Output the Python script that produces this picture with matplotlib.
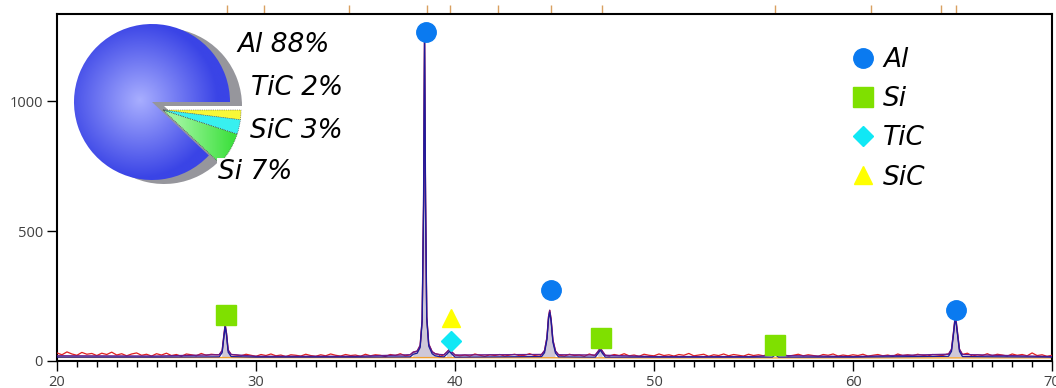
import matplotlib.pyplot as plt
import numpy as np
from matplotlib.patches import Wedge
from matplotlib.lines import Line2D
from matplotlib.ticker import MultipleLocator
from matplotlib.colors import LinearSegmentedColormap

# measured background, counts read every 0.25 deg of 2theta
two_theta = np.arange(20, 70.001, 0.25)
counts = [
    31, 24, 35, 27, 22, 33, 26, 29, 21, 30,
    25, 34, 23, 28, 20, 27, 31, 22, 26, 19,
    28, 23, 30, 21, 25, 18, 27, 24, 20, 29,
    22, 26, 24, 21, 27, 19, 23, 20, 26, 22,
    18, 25, 21, 27, 20, 23, 17, 24, 22, 19,
    26, 21, 18, 24, 20, 27, 22, 19, 25, 21,
    23, 18, 26, 20, 24, 22, 17, 25, 21, 28,
    20, 24, 22, 26, 19, 27, 23, 18, 25, 21,
    26, 20, 23, 19, 27, 22, 18, 24, 21, 25,
    19, 23, 26, 20, 22, 28, 21, 18, 24, 20,
    25, 22, 19, 26, 21, 23, 18, 27, 20, 24,
    22, 19, 25, 21, 28, 20, 23, 18, 26, 22,
    20, 27, 21, 24, 19, 25, 22, 29, 20, 23,
    26, 18, 24, 21, 27, 20, 25, 22, 19, 26,
    21, 24, 20, 27, 18, 23, 25, 19, 22, 26,
    20, 24, 21, 18, 25, 22, 27, 19, 23, 20,
    24, 21, 26, 19, 22, 25, 20, 23, 18, 27,
    21, 24, 20, 26, 22, 19, 25, 23, 21, 27,
    20, 25, 22, 30, 19, 24, 21, 28, 20, 26,
    23, 19, 27, 22, 25, 20, 31, 21, 24, 18,
    22]

# counts read around each reflection
peaks = [
    ([28.15, 28.3, 28.38, 28.45, 28.52, 28.6, 28.75],
     [24, 40, 95, 140, 105, 42, 25]),
    ([37.75, 37.9, 38.1, 38.25, 38.35, 38.42, 38.47, 38.52, 38.58, 38.68, 38.85, 39.0, 39.2],
     [24, 34, 38, 60, 160, 600, 1250, 620, 170, 65, 36, 28, 25]),
    ([39.45, 39.6, 39.72, 39.85, 40.0],
     [24, 35, 45, 34, 23]),
    ([44.35, 44.5, 44.62, 44.7, 44.76, 44.83, 44.92, 45.05, 45.2],
     [25, 40, 90, 170, 195, 160, 80, 38, 24]),
    ([47.05, 47.2, 47.3, 47.42, 47.55],
     [23, 38, 50, 36, 22]),
    ([55.95, 56.1, 56.25],
     [22, 32, 21]),
    ([64.8, 64.95, 65.05, 65.12, 65.18, 65.25, 65.35, 65.5],
     [26, 45, 110, 160, 155, 110, 45, 25]),
]

fit_bg_x = np.array([20, 25, 30, 35, 40, 45, 50, 55, 60, 65, 70])
fit_bg_y = np.array([20, 19, 18, 18, 18, 18, 17, 17, 17, 17, 17])
bkg_x = [20, 30, 40, 50, 60, 70]
bkg_y = [14, 13, 13, 12, 12, 12]

# reference line positions (top axis)
ref_lines = [28.54, 30.40, 34.67, 38.59, 39.75, 42.16, 44.82, 47.39, 56.08, 60.90, 64.42, 65.18]

# phase markers
phases = ['Al', 'Si', 'TiC', 'SiC']
phase_x = [[38.55, 44.82, 65.18], [28.5, 47.33, 56.1], [39.78], [39.78]]
phase_y = [[1265, 273, 196], [177, 88, 62], [77], [165]]
phase_marker = ['o', 's', 'D', '^']
phase_color = ['#0a7af0', '#7fe000', '#10e8f5', '#ffff00']
phase_size = [14, 14, 10, 13]

pie_names = ['Al', 'TiC', 'SiC', 'Si']
pie_pct = [88, 2, 3, 7]
pie_color = ['#3a44e6', '#f8f838', '#38f0f0', '#3ee03e']


def merge(xs, ys):
    xs = np.asarray(xs, float)
    ys = np.asarray(ys, float)
    keep = np.ones(len(xs), bool)
    for px, py in peaks:
        keep &= ~((xs >= px[0]) & (xs <= px[-1]))
    x = np.concatenate([xs[keep]] + [np.array(p[0]) for p in peaks])
    y = np.concatenate([ys[keep]] + [np.array(p[1], float) for p in peaks])
    o = np.argsort(x)
    return x[o], y[o]


fig = plt.figure(figsize=(10.56, 3.88), dpi=100)
ax = fig.add_axes([57/1056, 27/388, 995/1056, 347/388])

raw_x, raw_y = merge(two_theta, counts)
fit_x, fit_y = merge(fit_bg_x, fit_bg_y)

ax.fill_between(fit_x, fit_y, 15, where=fit_y > 24, color='#cfc8d8', lw=0, zorder=1)
ax.plot(bkg_x, bkg_y, color='#f0a030', lw=1, zorder=2)
ax.plot(raw_x, raw_y, color='#e02020', lw=0.9, zorder=3)
ax.plot(fit_x, fit_y, color='#6a1a8a', lw=1.0, zorder=4)
ax.plot(fit_x, np.maximum(fit_y - 8, 15), color='#1c1c9c', lw=0.9, zorder=4)

for i in range(len(phases)):
    ax.plot(phase_x[i], phase_y[i], linestyle='none', marker=phase_marker[i],
            color=phase_color[i], markersize=phase_size[i], zorder=6, clip_on=False)

# orange reference ticks above the top spine
ax.vlines(ref_lines, 1.0, 1.027, transform=ax.get_xaxis_transform(),
          color='#d9a060', lw=1, clip_on=False)

ax.set_xlim(20, 70)
ax.set_ylim(0, 1335)
ax.set_xticks([20, 30, 40, 50, 60, 70])
ax.set_yticks([0, 500, 1000])
ax.xaxis.set_minor_locator(MultipleLocator(1))
ax.tick_params(axis='both', which='major', direction='out', length=7, width=1,
               labelsize=10.5, labelcolor='#404040', pad=3)
ax.tick_params(axis='x', which='minor', direction='out', length=4, width=1)
for s in ax.spines.values():
    s.set_linewidth(1.5)
for lab in ax.get_xticklabels() + ax.get_yticklabels():
    lab.set_family('Open Sans')

label_font = dict(family='DejaVu Sans', style='italic', weight='normal', size=19)

handles = [Line2D([], [], linestyle='none', marker=phase_marker[i], color=phase_color[i],
                  markersize=phase_size[i]) for i in range(len(phases))]
ax.legend(handles, phases, loc='upper left', bbox_to_anchor=(0.797, 0.905), frameon=False,
          prop=label_font, labelspacing=0.5, handletextpad=0.25, handlelength=1.0,
          borderpad=0, borderaxespad=0)

# pie inset
pie_ax = fig.add_axes([(152-110)/1056, (388-102-110)/388, 220/1056, 220/388])
pie_ax.axis('off')

R = 78
al_end = pie_pct[0] * 3.6
pie_ax.add_patch(Wedge((12, -4), R, 0, al_end, color='#96969c', lw=0, zorder=1))

gx, gy = np.meshgrid(np.linspace(-110, 110, 300), np.linspace(-110, 110, 300))

blue_cmap = LinearSegmentedColormap.from_list('b', ['#a8aeff', pie_color[0]])
w = Wedge((0, 0), R, 0, al_end, facecolor='none', lw=0)
pie_ax.add_patch(w)
r = np.hypot(gx + 12, gy - 2) / R
im = pie_ax.imshow(r, extent=(-110, 110, -110, 110), origin='lower', cmap=blue_cmap,
                   vmin=0, vmax=1, interpolation='bilinear', zorder=2)
im.set_clip_path(w)

off = (11, -8)
start = 0
for name, pct, col in zip(pie_names[1:], pie_pct[1:], pie_color[1:]):
    t1 = start - pct * 3.6
    if name == 'Si':
        ww = Wedge(off, R, t1, start, facecolor='none', lw=0)
        pie_ax.add_patch(ww)
        gcm = LinearSegmentedColormap.from_list('g', ['#9af59a', col])
        g = np.clip((gx - off[0]) / R, 0, 1)
        im2 = pie_ax.imshow(g, extent=(-110, 110, -110, 110), origin='lower', cmap=gcm,
                            vmin=0.2, vmax=0.9, interpolation='bilinear', zorder=3)
        im2.set_clip_path(ww)
        pie_ax.add_patch(Wedge(off, R, t1, start, facecolor='none', edgecolor='#444444',
                               lw=0.5, ls=':', zorder=4))
    else:
        pie_ax.add_patch(Wedge(off, R, t1, start, facecolor=col, edgecolor='#444444',
                               lw=0.5, ls=':', zorder=4))
    start = t1
pie_ax.set_xlim(-110, 110)
pie_ax.set_ylim(-110, 110)

label_pos = [(237, 45), (251, 88), (250, 131), (218, 172)]
for (lx, ly), name, pct in zip(label_pos, pie_names, pie_pct):
    kw = {}
    if name == 'Si':
        kw['bbox'] = dict(facecolor='white', edgecolor='none', pad=1)
    fig.text(lx/1056, 1 - ly/388, f'{name} {pct}%', ha='left', va='center',
             color='black', zorder=10, **label_font, **kw)

fig.savefig('out.png', dpi=100)
